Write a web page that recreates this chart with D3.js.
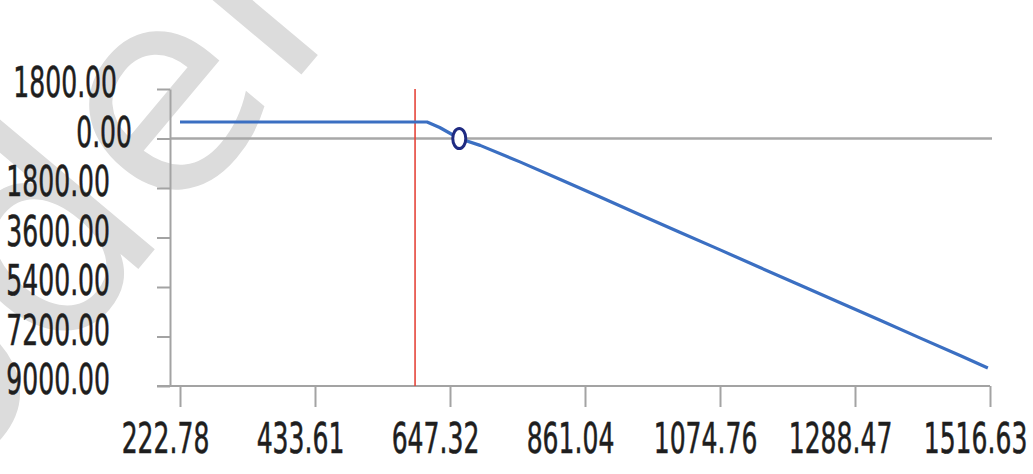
<!DOCTYPE html>
<html>
<head>
<meta charset="utf-8">
<script src="https://cdn.jsdelivr.net/npm/d3@7"></script>
<style>
  html, body { margin: 0; padding: 0; background: #fff; }
  svg { display: block; }
</style>
</head>
<body>
<svg id="chart" width="1033" height="474"></svg>
<script>
// Strike / price axis tick labels and P&L axis ticks
const xTickValues = [222.78, 433.61, 647.32, 861.04, 1074.76, 1288.47, 1516.63];
const yTickValues = [1800, 0, -1800, -3600, -5400, -7200, -9000];

// Payoff curve (price -> profit/loss)
const payoffX = [222.78, 611, 631, 662, 695, 758, 822, 885, 948, 1011, 1075, 1138, 1201, 1265, 1331, 1398, 1466, 1513];
const payoffY = [600, 600, 400, 0, -250, -850, -1490, -2130, -2770, -3410, -4050, -4690, -5330, -5970, -6610, -7250, -7890, -8345];

// Current price marker and break-even point
const spotPrice = 592;
const breakEven = 662;

const watermarkText = "Model";

const svg = d3.select("#chart");
const axisColor = "#a3a3a3";
const labelFont = "'DejaVu Sans', Verdana, sans-serif";
const labelSize = 42.5;
const squeeze = 0.59;

const axisX0 = 170;          // y-axis position
const firstTickX = 180, tickStep = 135;

const x = d3.scaleLinear()
  .domain(xTickValues)
  .range(xTickValues.map((d, i) => firstTickX + i * tickStep));
const y = d3.scaleLinear().domain([1800, -9000]).range([89, 386]);

// watermark behind the chart
svg.append("text")
  .attr("transform", "translate(-215,690) rotate(-50)")
  .attr("font-family", "'DejaVu Sans', sans-serif")
  .attr("font-size", 285)
  .attr("fill", "#dcdcdc")
  .text(watermarkText);

// zero line
svg.append("line")
  .attr("x1", axisX0).attr("x2", x.range()[x.range().length - 1] + 2)
  .attr("y1", y(0)).attr("y2", y(0))
  .attr("stroke", "#a8a8a8").attr("stroke-width", 2.5);

// y axis
const yAxis = svg.append("g")
  .attr("transform", `translate(${axisX0},0)`)
  .call(d3.axisLeft(y).tickValues(yTickValues).tickSize(13).tickSizeOuter(0)
    .tickFormat(d => Math.abs(d).toFixed(2)));
yAxis.select(".domain").attr("stroke", axisColor).attr("stroke-width", 2);
yAxis.selectAll(".tick line").attr("stroke", axisColor).attr("stroke-width", 2);
yAxis.selectAll(".tick text")
  .attr("font-family", labelFont)
  .attr("font-size", labelSize)
  .attr("fill", "#1e1e1e")
  .attr("stroke", "#1e1e1e").attr("stroke-width", 0.6)
  .attr("text-anchor", "end")
  .attr("dy", null)
  .attr("y", 7.5)
  .attr("x", d => (d === 0 ? -38 : d > 0 ? -53 : -60) / squeeze)
  .attr("transform", `scale(${squeeze},1)`);

// x axis
const xAxisY = y(-9000);
svg.append("line")
  .attr("x1", axisX0 - 13).attr("x2", x.range()[x.range().length - 1])
  .attr("y1", xAxisY).attr("y2", xAxisY)
  .attr("stroke", axisColor).attr("stroke-width", 2);
const xAxis = svg.append("g")
  .attr("transform", `translate(0,${xAxisY})`)
  .call(d3.axisBottom(x).tickValues(xTickValues).tickSize(21).tickSizeOuter(0)
    .tickFormat(d => d.toFixed(2)));
xAxis.select(".domain").remove();
xAxis.selectAll(".tick line").attr("stroke", axisColor).attr("stroke-width", 2);
xAxis.selectAll(".tick text")
  .attr("font-family", labelFont)
  .attr("font-size", labelSize)
  .attr("fill", "#1e1e1e")
  .attr("stroke", "#1e1e1e").attr("stroke-width", 0.6)
  .attr("text-anchor", "middle")
  .attr("dy", null)
  .attr("y", 67)
  .attr("x", -15 / squeeze)
  .attr("transform", `scale(${squeeze},1)`);

// spot price marker
svg.append("line")
  .attr("x1", x(spotPrice)).attr("x2", x(spotPrice))
  .attr("y1", y(1800)).attr("y2", y(-9000))
  .attr("stroke", "#e5453a").attr("stroke-width", 1.6);

// payoff line
const points = payoffX.map((v, i) => [v, payoffY[i]]);
svg.append("path")
  .datum(points)
  .attr("fill", "none")
  .attr("stroke", "#3b6fc2")
  .attr("stroke-width", 3.2)
  .attr("stroke-linejoin", "round")
  .attr("d", d3.line().x(d => x(d[0])).y(d => y(d[1])));

// break-even marker
svg.append("ellipse")
  .attr("cx", x(breakEven)).attr("cy", y(0))
  .attr("rx", 6.5).attr("ry", 10)
  .attr("fill", "#fff")
  .attr("stroke", "#1f2b82").attr("stroke-width", 3);
</script>
</body>
</html>
